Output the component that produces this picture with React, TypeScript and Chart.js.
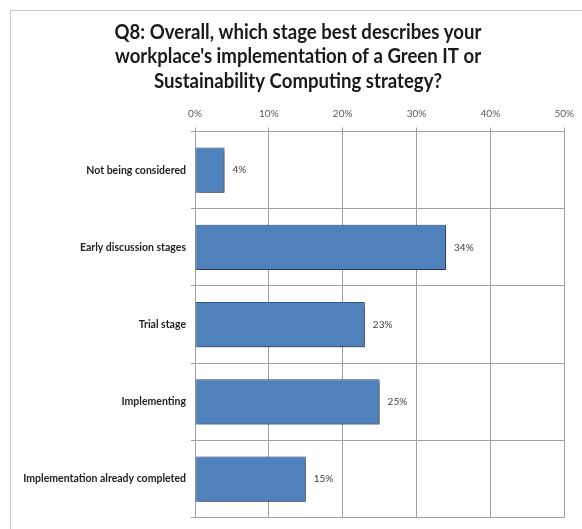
import React, { useEffect, useRef } from "react";
import { Chart, registerables } from "chart.js";

Chart.register(...registerables);

const titleLines = [
  "Q8: Overall, which stage best describes your",
  "workplace's implementation of a Green IT or",
  "Sustainability Computing strategy?",
];
const categories = [
  "Not being considered",
  "Early discussion stages",
  "Trial stage",
  "Implementing",
  "Implementation already completed",
];
const values = [4, 34, 23, 25, 15];
const axisMin = 0;
const axisMax = 50;
const axisStep = 10;

const FONT = "Lato, 'Open Sans', sans-serif";

const framePlugin = {
  id: "frame",
  beforeDraw(chart: any) {
    const ctx = chart.ctx;
    ctx.save();
    ctx.fillStyle = "#ffffff";
    ctx.fillRect(0, 0, chart.width, chart.height);
    ctx.strokeStyle = "#c8c8c8";
    ctx.lineWidth = 1;
    ctx.strokeRect(10.5, 10.5, chart.width + 20, chart.height + 20);
    // title
    ctx.fillStyle = "#1a1a1a";
    ctx.font = `bold 20px ${FONT}`;
    ctx.textAlign = "center";
    ctx.textBaseline = "middle";
    const ys = [32.5, 57, 81.5];
    titleLines.forEach((line, i) => {
      ctx.save();
      ctx.translate(298, ys[i]);
      ctx.scale(0.93, 1);
      ctx.fillText(line, 0, 0);
      ctx.restore();
    });
    ctx.restore();
  },
};

const shadowPlugin = {
  id: "barShadow",
  beforeDatasetsDraw(chart: any) {
    const ctx = chart.ctx;
    ctx.save();
    ctx.shadowColor = "rgba(0,0,0,0.5)";
    ctx.shadowBlur = 4;
    ctx.shadowOffsetX = 2;
    ctx.shadowOffsetY = 2;
  },
  afterDatasetsDraw(chart: any) {
    const ctx = chart.ctx;
    ctx.restore();
    const meta = chart.getDatasetMeta(0);
    ctx.save();
    ctx.fillStyle = "#404040";
    ctx.font = `10px ${FONT}`;
    ctx.textAlign = "left";
    ctx.textBaseline = "middle";
    meta.data.forEach((el: any, i: number) => {
      ctx.fillText(values[i] + "%", el.x + 8, el.y);
    });
    ctx.restore();
  },
};

export default function App() {
  const ref = useRef<HTMLCanvasElement>(null);
  useEffect(() => {
    if (!ref.current) return;
    const chart = new Chart(ref.current, {
      type: "bar",
      data: {
        labels: categories,
        datasets: [
          {
            data: values,
            backgroundColor: "#4F81BD",
            borderColor: "#385D8A",
            borderWidth: 1,
            borderSkipped: false,
            barPercentage: 0.585,
            categoryPercentage: 1,
          },
        ],
      },
      options: {
        indexAxis: "y",
        responsive: false,
        animation: false,
        layout: { padding: { top: 100, left: 0, right: 14, bottom: 5 } },
        plugins: {
          legend: { display: false },
          title: { display: false },
          tooltip: { enabled: false },
        },
        scales: {
          x: {
            position: "top",
            min: axisMin,
            max: axisMax,
            ticks: {
              stepSize: axisStep,
              callback: (v: any) => v + "%",
              color: "#595959",
              font: { family: FONT, size: 10 },
              padding: 8,
            },
            grid: { color: "#a0a0a0", tickLength: 4, drawTicks: true },
            border: { color: "#a0a0a0" },
            afterFit: (s: any) => {
              s.height = 31.5;
            },
          },
          y: {
            ticks: {
              color: "#1f1f1f",
              font: { family: FONT, size: 10.5, weight: "bold" },
              padding: 5,
            },
            grid: { color: "#a0a0a0", tickLength: 4, offset: true },
            border: { color: "#a0a0a0" },
            afterFit: (s: any) => {
              s.width = 195;
            },
          },
        },
      },
      plugins: [framePlugin, shadowPlugin],
    });
    return () => chart.destroy();
  }, []);
  return (
    <div style={{ position: "absolute", left: 0, top: 0 }}>
      <canvas ref={ref} width={582} height={529} />
    </div>
  );
}
